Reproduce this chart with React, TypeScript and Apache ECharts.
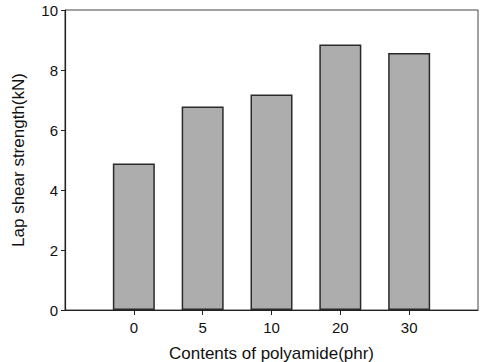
import React, { useEffect, useRef } from "react";
import * as echarts from "echarts";

const categories = ["", "0", "5", "10", "20", "30", ""];
const strengthValues: (number | null)[] = [null, 4.88, 6.78, 7.18, 8.85, 8.57, null];
const yTitle = "Lap shear strength(kN)";
const xTitle = "Contents of polyamide(phr)";

export default function App() {
  const ref = useRef<HTMLDivElement>(null);
  useEffect(() => {
    if (!ref.current) return;
    const chart = echarts.init(ref.current, undefined, { renderer: "svg" });
    const font = "Liberation Sans, Arial, sans-serif";
    chart.setOption({
      animation: false,
      backgroundColor: "#ffffff",
      grid: {
        left: 65,
        right: 2,
        top: 10,
        bottom: 52,
        outerBoundsMode: "none",
        containLabel: false,
        show: true,
        borderColor: "#444",
        borderWidth: 1,
      },
      xAxis: {
        type: "category",
        data: categories,
        boundaryGap: false,
        name: xTitle,
        nameLocation: "middle",
        nameGap: 35,
        nameTextStyle: { fontSize: 17, color: "#111", fontFamily: font },
        axisLine: { lineStyle: { color: "#222", width: 1.2 } },
        axisTick: {
          show: true,
          inside: false,
          length: 5,
          interval: (i: number, v: string) => v !== "",
          lineStyle: { color: "#222" },
        },
        axisLabel: {
          interval: 0,
          fontSize: 15,
          color: "#111",
          fontFamily: font,
          margin: 10,
        },
        splitLine: { show: false },
      },
      yAxis: {
        type: "value",
        min: 0,
        max: 10,
        interval: 2,
        name: yTitle,
        nameLocation: "middle",
        nameGap: 38,
        nameTextStyle: { fontSize: 17, color: "#111", fontFamily: font },
        axisLine: { show: true, lineStyle: { color: "#222", width: 1.2 } },
        axisTick: { show: true, inside: false, length: 4, lineStyle: { color: "#222" } },
        axisLabel: { fontSize: 15, color: "#111", fontFamily: font, margin: 7 },
        splitLine: { show: false },
      },
      series: [
        {
          type: "bar",
          data: strengthValues,
          barWidth: 42,
          itemStyle: {
            color: "#adadad",
            borderColor: "#2a2a2a",
            borderWidth: 1.5,
          },
        },
      ],
    });
    return () => chart.dispose();
  }, []);
  return (
    <div
      ref={ref}
      style={{ position: "absolute", left: 0, top: 0, width: 480, height: 362 }}
    />
  );
}
